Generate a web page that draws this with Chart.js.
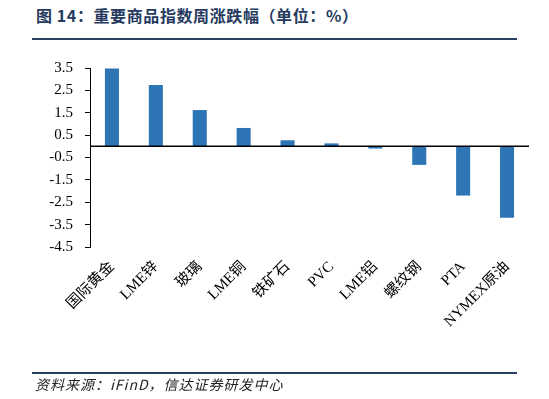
<!DOCTYPE html>
<html>
<head>
<meta charset="utf-8">
<script src="https://cdn.jsdelivr.net/npm/chart.js@4.4.1/dist/chart.umd.min.js"></script>
<style>
  html, body { margin:0; padding:0; background:#fff; }
  body { width:549px; height:399px; position:relative; overflow:hidden; }
  #title { position:absolute; left:36px; top:3px; font:bold 16px "Noto Sans CJK SC", sans-serif; color:#253a5e; white-space:nowrap; letter-spacing:0.6px; }
  .rule { position:absolute; left:32px; width:485px; height:2px; background:#2b3f63; }
  #source { position:absolute; left:35px; top:374px; font:italic 14px "Noto Sans CJK SC", sans-serif; color:#222; white-space:nowrap; letter-spacing:1px; }
  canvas { position:absolute; left:0; top:0; }
</style>
</head>
<body>
<div id="title">图 14：重要商品指数周涨跌幅（单位：%）</div>
<div class="rule" style="top:38px"></div>
<canvas id="c" width="549" height="399"></canvas>
<div class="rule" style="top:372px"></div>
<div id="source">资料来源：iFinD，信达证券研发中心</div>
<script>
const categories = ["国际黄金","LME锌","玻璃","LME铜","铁矿石","PVC","LME铝","螺纹钢","PTA","NYMEX原油"];
const changes = [3.48, 2.74, 1.62, 0.82, 0.27, 0.13, -0.10, -0.83, -2.20, -3.19];
const yMin = -4.5, yMax = 3.5, yStep = 1;

const zeroLine = {
  id: 'zeroLine',
  afterDatasetsDraw(chart) {
    const {ctx, chartArea, scales} = chart;
    const y = scales.y.getPixelForValue(0);
    ctx.save();
    ctx.strokeStyle = '#000';
    ctx.lineWidth = 1.5;
    ctx.beginPath();
    ctx.moveTo(chartArea.left, y);
    ctx.lineTo(chartArea.right, y);
    ctx.stroke();
    ctx.restore();
  }
};

new Chart(document.getElementById('c'), {
  type: 'bar',
  data: {
    labels: categories,
    datasets: [{
      data: changes,
      backgroundColor: '#2e75b6',
      barPercentage: 0.32,
      categoryPercentage: 1.0
    }]
  },
  options: {
    responsive: false,
    animation: false,
    layout: { padding: { top: 68, right: 20, left: 0, bottom: 0 } },
    plugins: { legend: { display: false }, tooltip: { enabled: false } },
    scales: {
      x: {
        grid: { display: false },
        border: { display: false },
        ticks: {
          color: '#000',
          font: { family: '"Liberation Serif", "Noto Sans CJK SC", serif', size: 15 },
          maxRotation: 45, minRotation: 45, autoSkip: false, padding: 3
        },
        afterFit(s) { s.height = 152; }
      },
      y: {
        min: yMin, max: yMax,
        grid: { drawOnChartArea: false, color: '#000', tickLength: 5, tickWidth: 1 },
        border: { display: true, color: '#000', width: 1 },
        ticks: {
          stepSize: yStep, color: '#000', padding: 12,
          font: { family: '"Liberation Serif", serif', size: 15 },
          callback: v => v.toFixed(1)
        },
        afterFit(s) { s.width = 90; }
      }
    }
  },
  plugins: [zeroLine]
});
</script>
</body>
</html>
